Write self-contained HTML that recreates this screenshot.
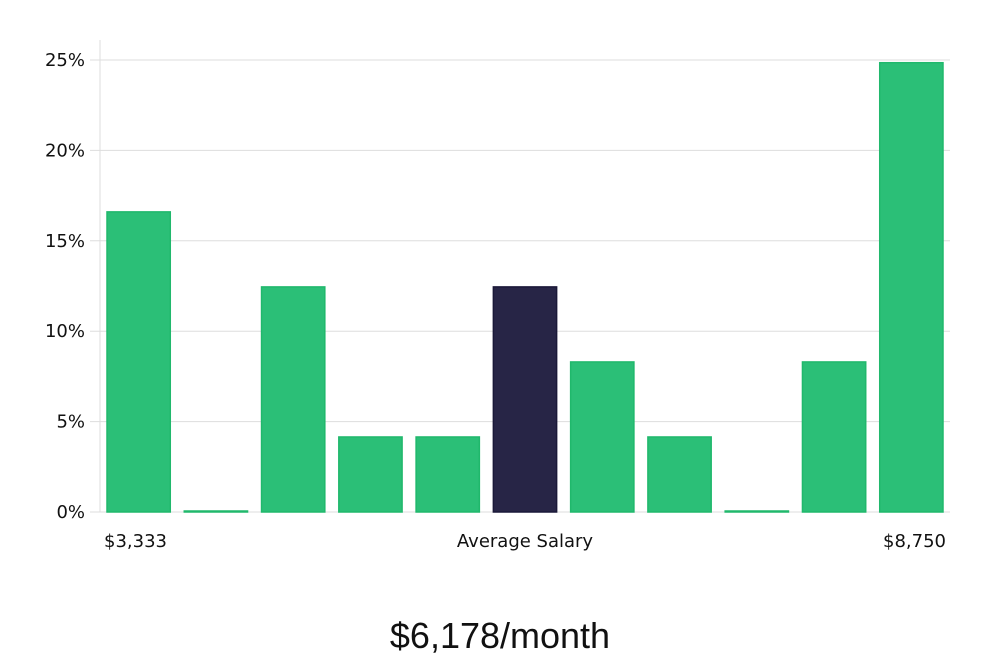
<!DOCTYPE html>
<html><head><meta charset="utf-8"><style>
body{margin:0;background:#fff;width:1000px;height:660px;overflow:hidden;font-family:"DejaVu Sans","Liberation Sans",sans-serif}
</style></head><body>
<svg width="1000" height="660" id="c"></svg>
<script>
const categories=["b1","b2","b3","b4","b5","b6","b7","b8","b9","b10","b11"];
const values=[16.6,0,12.45,4.15,4.15,12.45,8.3,4.15,0,8.3,24.85];
const highlight=[false,false,false,false,false,true,false,false,false,false,false];
const yTicks=[0,5,10,15,20,25];
const yTickLabels=["0%","5%","10%","15%","20%","25%"];
const ns="http://www.w3.org/2000/svg",svg=document.getElementById('c');
const x0=100,x1=950,yB=512,yT=60;
const y=v=>yB-(v/25)*(yB-yT);
const bw=(x1-x0)/categories.length;
function mk(t,a,txt){const e=document.createElementNS(ns,t);for(const k in a)e.setAttribute(k,a[k]);if(txt!=null)e.textContent=txt;svg.appendChild(e);return e;}
mk('line',{x1:x0,y1:40,x2:x0,y2:yB,stroke:'#ddd',});
yTicks.forEach((t,i)=>{
  const l=mk('line',{x1:90,y1:y(t),x2:x1,y2:y(t),stroke:'#ddd'});
  
  
  const tx=mk('text',{x:85,y:y(t)+6,'text-anchor':'end','font-size':18,fill:'#111'},yTickLabels[i]);
  
  
});
values.forEach((v,i)=>{
  const bx=x0+i*bw+7,h=Math.max(1,yB-y(v));
  const r=mk('rect',{x:bx,y:yB-h,width:bw-14,height:h,fill:highlight[i]?'#272546':'#2bbf77',stroke:highlight[i]?'#1a1838':'#20b86c','stroke-width':1.5});
  
  
});
const a=mk('text',{x:104,y:547,'font-size':18,fill:'#111'},'$3,333');

const b=mk('text',{x:525,y:547,'text-anchor':'middle','font-size':18,fill:'#111'},'Average Salary');

const c=mk('text',{x:946,y:547,'text-anchor':'end','font-size':18,fill:'#111'},'$8,750');

const d=mk('text',{x:500,y:648,'text-anchor':'middle','font-size':36,fill:'#111','font-family':'Liberation Sans, sans-serif'},'$6,178/month');

</script>
</body></html>
